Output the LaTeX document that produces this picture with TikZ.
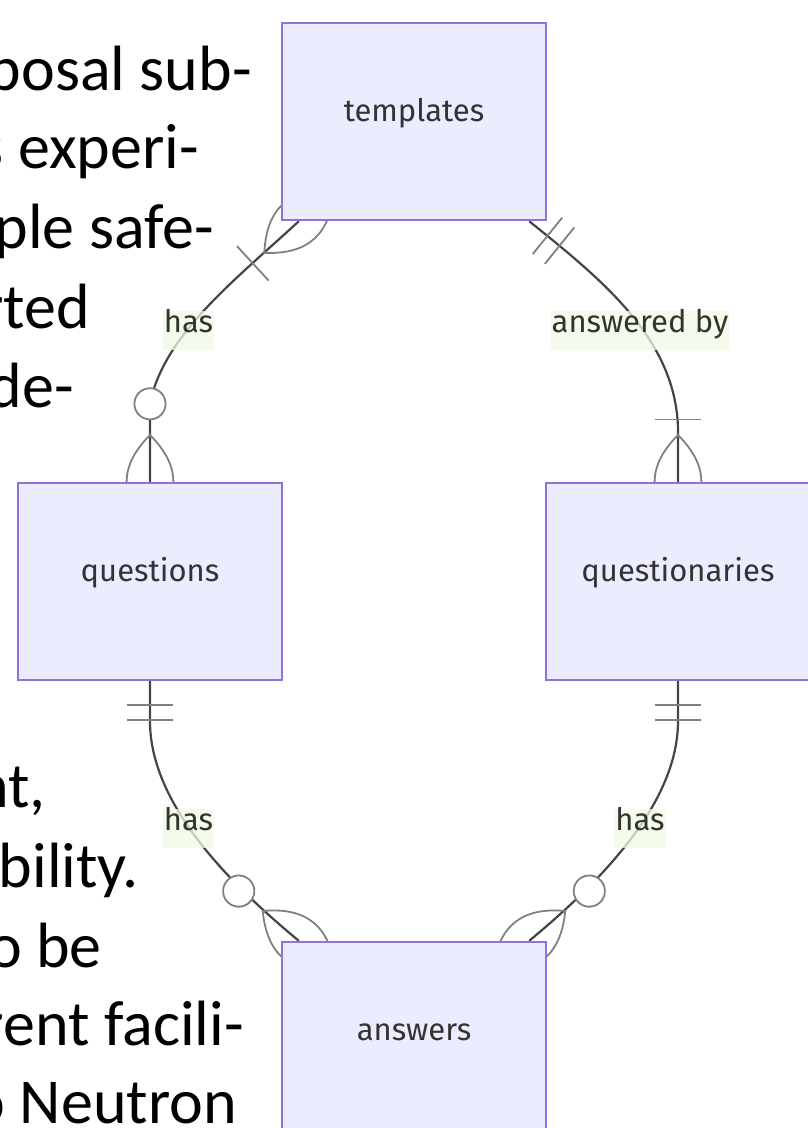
\documentclass[tikz,border=0pt]{standalone}
\usepackage{fontspec}
\setmainfont{Carlito}
\newfontfamily\erfont{Fira Sans}
\usetikzlibrary{calc}
\definecolor{boxfill}{HTML}{ECECFF}
\definecolor{boxline}{HTML}{9370DB}
\definecolor{txtgray}{HTML}{333333}
\definecolor{lblbg}{RGB}{240,250,228}
\definecolor{mkgray}{HTML}{808080}
\definecolor{linegray}{HTML}{444444}
\pgfdeclarelayer{fg}
\pgfsetlayers{main,fg}
\begin{document}
\begin{tikzpicture}[x=1pt,y=-1pt,
  entity/.style={draw=boxline, fill=boxfill, line width=2.4pt, minimum width=264pt, minimum height=197pt, inner sep=0pt, text height=12pt, text depth=12pt, font=\erfont\fontsize{31}{36}\selectfont, text=txtgray},
  rel/.style={draw=linegray, line width=2.2pt},
  rlabel/.style={fill=lblbg, fill opacity=0.75, text opacity=1, text=txtgray, font=\erfont\fontsize{31}{36}\selectfont, inner xsep=1pt, inner ysep=0pt, text height=21pt, text depth=18pt, anchor=base},
  bgtext/.style={font=\fontsize{64}{78}\selectfont, anchor=base east, inner sep=0pt, text=black},
  mkline/.style={draw=mkgray, line width=1.8pt},
  onlyone/.pic={\draw[mkline] (9,-9) -- (9,9) (15,-9) -- (15,9);},
  oneormore/.pic={\draw[mkline] (-18,0) .. controls (-6,-12) and (6,-12) .. (18,0) .. controls (6,12) and (-6,12) .. (-18,0); \draw[mkline] (24,-9) -- (24,9);},
  zeroormore/.pic={\draw[mkline] (-18,0) .. controls (-6,-12) and (6,-12) .. (18,0) .. controls (6,12) and (-6,12) .. (-18,0); \draw[mkline, fill=white] (30,0) circle (6);}
]
\useasboundingbox (0,0) rectangle (807,1128);

% background document text
\node[bgtext] (t1) at (252,90) {posal sub-};
\node[bgtext] (t2) at (199,168) {s experi-};
\node[bgtext] (t3) at (214,248) {ple safe-};
\node[bgtext] (t4) at (90,328) {rted};
\node[bgtext] (t5) at (74,407) {de-};
\node[bgtext] (t6) at (46,807) {nt,};
\node[bgtext] (t7) at (139,887) {bility.};
\node[bgtext] (t8) at (102,967) {o be};
\node[bgtext] (t9) at (244,1045) {rent facili-};
\node[bgtext] (t10) at (237,1123) {o Neutron};

% entities
\begin{pgfonlayer}{fg}
\node[entity] (tpl) at (414,121.5) {templates};
\node[entity] (qst) at (150,581.5) {questions};
\node[entity] (qnr) at (678,581.5) {questionaries};
\node[entity] (ans) at (414,1040.5) {answers};
\end{pgfonlayer}

\coordinate (aS) at ($(tpl.south west)+(18,0)$);
\coordinate (aE) at (qst.north);
\coordinate (bS) at ($(tpl.south east)+(-18,0)$);
\coordinate (bE) at (qnr.north);
\coordinate (cS) at (qst.south);
\coordinate (cE) at ($(ans.north west)+(18,0)$);
\coordinate (dS) at (qnr.south);
\coordinate (dE) at ($(ans.north east)+(-18,0)$);

% relationship lines
\draw[rel] (aS) .. controls +(-65,60) and +(15,-69) .. ($(aE)+(0,-79)$) -- (aE);
\draw[rel] (bS) .. controls +(72,58) and +(-2,-90) .. ($(bE)+(0,-53)$) -- (bE);
\draw[rel] (cS) -- ($(cS)+(0,40)$) .. controls +(0,80) and +(-75,-62) .. (cE);
\draw[rel] (dS) -- ($(dS)+(0,40)$) .. controls +(0,80) and +(75,-62) .. (dE);

% labels
\node[rlabel] (l1) at (188.5,332) {has};
\node[rlabel] (l2) at (640,332) {answered by};
\node[rlabel] (l3) at (188.5,830) {has};
\node[rlabel] (l4) at (640,830) {has};

% cardinality markers
\pic[rotate=222.6,scale=2.6] at (aS) {oneormore};
\pic[rotate=90,scale=2.6] at (aE) {zeroormore};
\pic[rotate=-38.9,scale=2.6] at (bS) {onlyone};
\pic[rotate=90,scale=2.6] at (bE) {oneormore};
\pic[rotate=270,scale=2.6] at (cS) {onlyone};
\pic[rotate=140.4,scale=2.6] at (cE) {zeroormore};
\pic[rotate=270,scale=2.6] at (dS) {onlyone};
\pic[rotate=39.6,scale=2.6] at (dE) {zeroormore};
\end{tikzpicture}
\end{document}
